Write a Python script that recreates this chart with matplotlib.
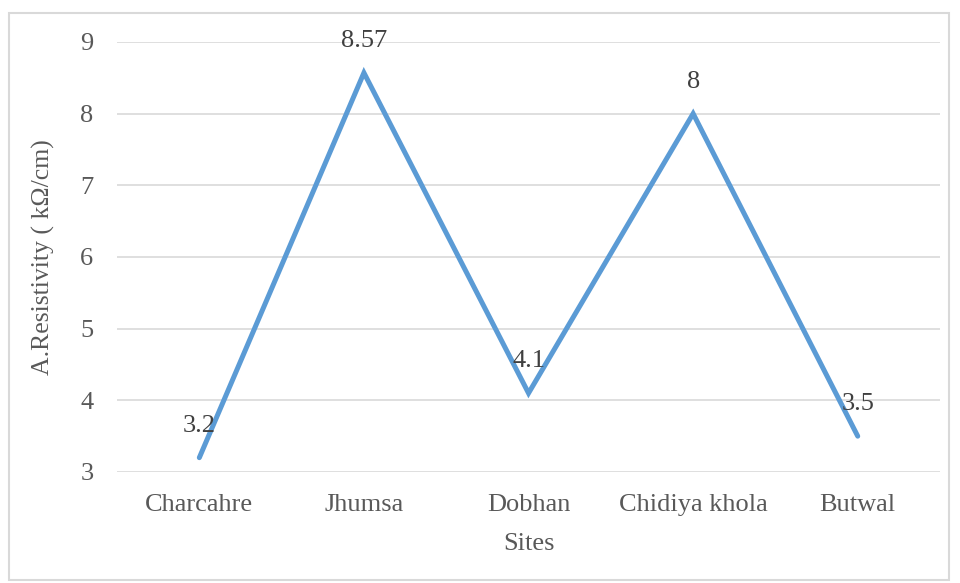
import matplotlib.pyplot as plt
from matplotlib.patches import Rectangle

sites = ['Charcahre', 'Jhumsa', 'Dobhan', 'Chidiya khola', 'Butwal']
resistivity = [3.2, 8.57, 4.1, 8, 3.5]
value_labels = ['3.2', '8.57', '4.1', '8', '3.5']
yticks = [3, 4, 5, 6, 7, 8, 9]

plt.rcParams['font.family'] = ['Liberation Serif', 'DejaVu Serif']

fig = plt.figure(figsize=(9.6, 5.83), dpi=100)
ax = fig.add_axes([0.1219, 0.1904, 0.8573, 0.7376])

# light frame around the whole chart
fig.patches.append(Rectangle((0.009, 0.006), 0.98, 0.972, transform=fig.transFigure,
                             fill=False, edgecolor='#d9d9d9', linewidth=1.5))

x = range(len(sites))
ax.plot(x, resistivity, color='#5b9bd5', linewidth=3.6, solid_capstyle='round',
        solid_joinstyle='miter', zorder=3)

for xi, yi, lab in zip(x, resistivity, value_labels):
    ax.annotate(lab, (xi, yi), xytext=(0, 23), textcoords='offset points',
                ha='center', va='center', fontsize=19, color='#404040', zorder=4)

ax.set_xlim(-0.5, len(sites) - 0.5)
ax.set_ylim(3, 9)
ax.set_xticks(list(x))
ax.set_xticklabels(sites)
ax.set_yticks(yticks)
ax.tick_params(axis='both', length=0, labelsize=19, labelcolor='#595959')
ax.tick_params(axis='x', pad=16)
ax.tick_params(axis='y', pad=17)
ax.grid(axis='y', color='#d9d9d9', linewidth=1.2)
ax.set_axisbelow(True)
for s in ax.spines.values():
    s.set_visible(False)

ax.set_xlabel('Sites', fontsize=19, color='#595959', labelpad=12)
ax.set_ylabel('A.Resistivity ( k\u03a9/cm)', fontsize=18.5, color='#595959', labelpad=18)

fig.savefig('out.png', dpi=100)
